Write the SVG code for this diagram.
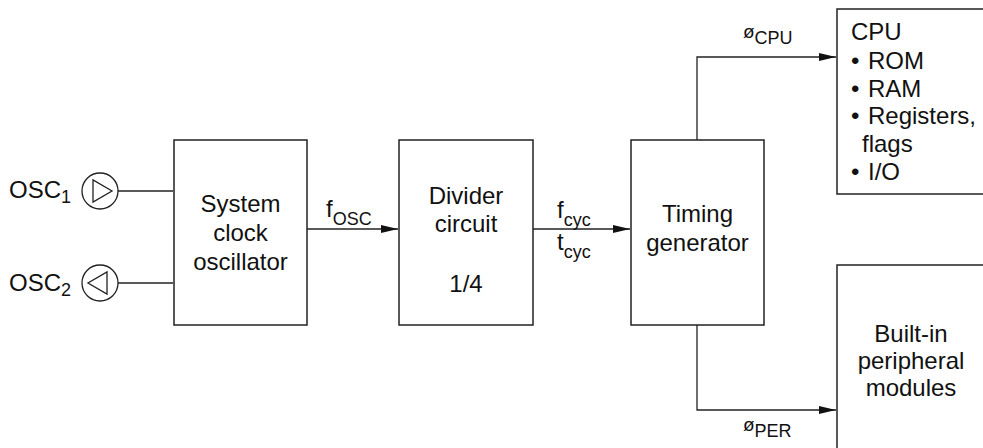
<svg xmlns="http://www.w3.org/2000/svg" width="983" height="448" viewBox="0 0 983 448">
<style>
text{font-family:"Liberation Sans",Arial,sans-serif;font-size:24px;fill:#111}
.sub{font-size:18px}
.box{fill:#fff;stroke:#222;stroke-width:1.5}
.ln{fill:none;stroke:#222;stroke-width:1.3}
.c{text-anchor:middle}
</style>
<defs>
<marker id="ah" viewBox="0 0 17 8" refX="17" refY="4" markerWidth="17" markerHeight="8" markerUnits="userSpaceOnUse" orient="auto">
<path d="M0,0 L17,4 L0,8 Z" fill="#111"/>
</marker>
</defs>
<rect width="983" height="448" fill="#fff"/>
<g id="connectors">
<line class="ln" x1="118" y1="191" x2="173" y2="191"/>
<line class="ln" x1="118" y1="283" x2="173" y2="283"/>
<line class="ln" x1="307" y1="229" x2="398" y2="229" marker-end="url(#ah)"/>
<line class="ln" x1="533" y1="229" x2="630" y2="229" marker-end="url(#ah)"/>
<polyline class="ln" points="697,140 697,57 836,57" marker-end="url(#ah)"/>
<polyline class="ln" points="697,325 697,410 836,410" marker-end="url(#ah)"/>
<text x="326" y="217">f<tspan class="sub" y="225">OSC</tspan></text>
<text x="557" y="218">f<tspan class="sub" y="226">cyc</tspan></text>
<text x="557" y="250">t<tspan class="sub" y="258">cyc</tspan></text>
<text x="743" y="38" style="font-size:19px">ø<tspan class="sub" y="44">CPU</tspan></text>
<text x="743" y="431" style="font-size:19px">ø<tspan class="sub" y="437">PER</tspan></text>
</g>
<g id="osc1">
<text x="9" y="198">OSC<tspan class="sub" y="203">1</tspan></text>
<circle class="ln" cx="100" cy="191" r="18"/>
<polygon class="ln" points="93,180 93,202 112,191"/>
</g>
<g id="osc2">
<text x="9" y="291">OSC<tspan class="sub" y="296">2</tspan></text>
<circle class="ln" cx="100" cy="283" r="18"/>
<polygon class="ln" points="107,272 107,294 88,283"/>
</g>
<g id="sysclk">
<rect class="box" x="174" y="140" width="133" height="185"/>
<text class="c" x="240.5" y="212">System</text>
<text class="c" x="240.5" y="241">clock</text>
<text class="c" x="240.5" y="270">oscillator</text>
</g>
<g id="divider">
<rect class="box" x="399" y="140" width="134" height="185"/>
<text class="c" x="466" y="204">Divider</text>
<text class="c" x="466" y="232">circuit</text>
<text class="c" x="466" y="292">1/4</text>
</g>
<g id="timing">
<rect class="box" x="631" y="140" width="133" height="185"/>
<text class="c" x="697.5" y="222">Timing</text>
<text class="c" x="697.5" y="251">generator</text>
</g>
<g id="cpu">
<rect class="box" x="837" y="9" width="160" height="185"/>
<text x="851" y="40">CPU</text>
<text x="851" y="69">•<tspan x="868">ROM</tspan></text>
<text x="851" y="97">•<tspan x="868">RAM</tspan></text>
<text x="851" y="124">•<tspan x="868">Registers,</tspan></text>
<text x="862" y="152">flags</text>
<text x="851" y="180">•<tspan x="868">I/O</tspan></text>
</g>
<g id="peripheral">
<rect class="box" x="837" y="265" width="160" height="200"/>
<text class="c" x="911" y="342">Built-in</text>
<text class="c" x="911" y="369">peripheral</text>
<text class="c" x="911" y="396">modules</text>
</g>
</svg>
